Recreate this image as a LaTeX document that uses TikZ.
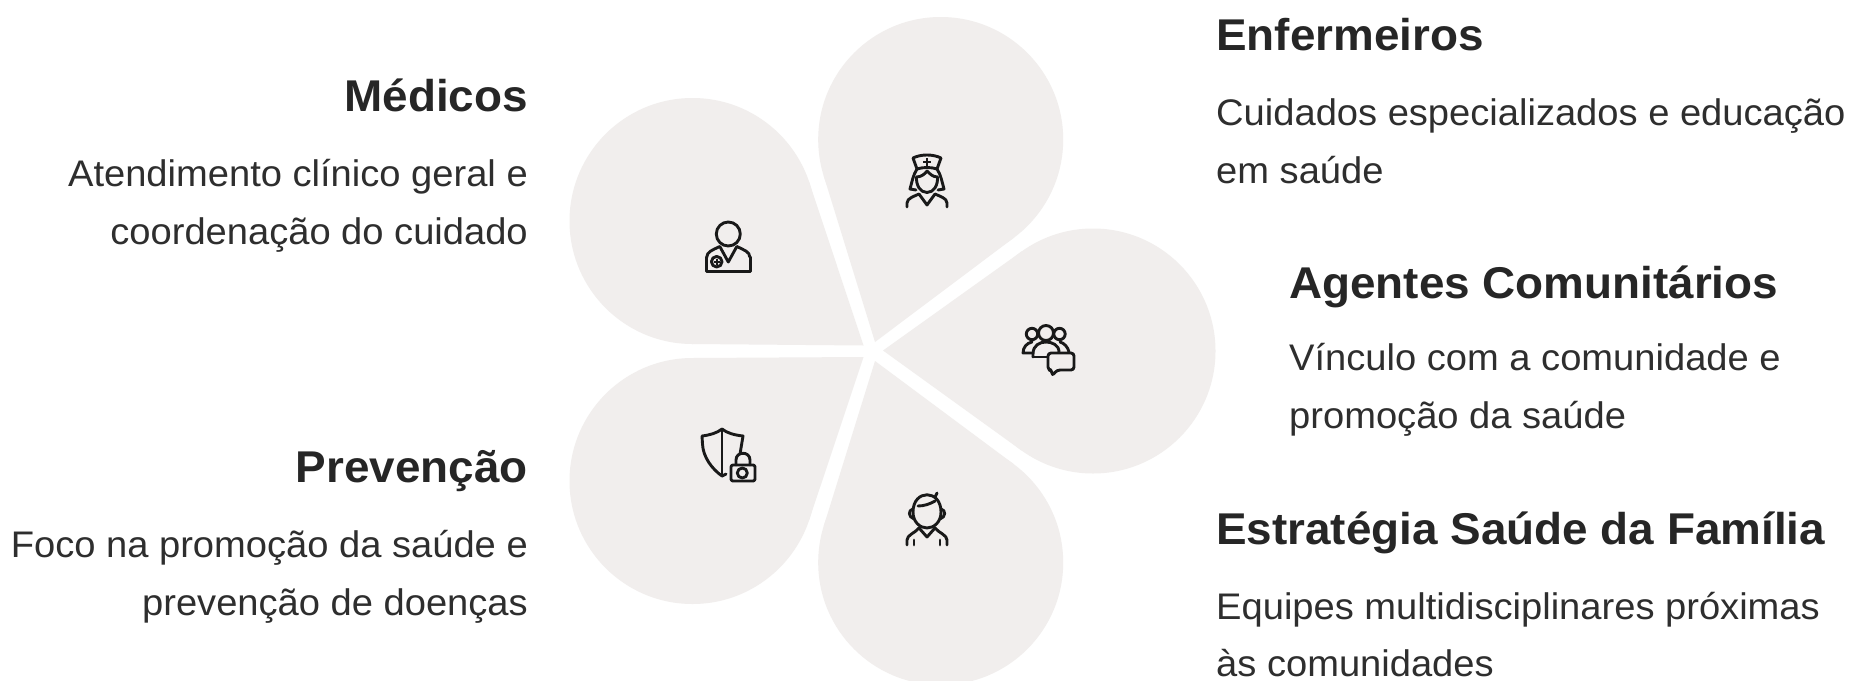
\documentclass[tikz,border=0pt]{standalone}
\usepackage{fontspec}
\setmainfont{Liberation Sans}
\newfontfamily\bodyf[FakeStretch=1.03]{Liberation Sans}
\newfontfamily\titlef[FakeStretch=1.03]{Liberation Sans}
\definecolor{petal}{HTML}{F1EEED}
\definecolor{ink}{HTML}{262626}
\definecolor{sub}{HTML}{2E2E2E}
\tikzset{
  ttl/.style={inner sep=0pt,anchor=base #1,text=ink,font=\titlef\fontsize{44.5}{44.5}\selectfont\bfseries},
  bdy/.style={inner sep=0pt,anchor=base #1,text=sub,font=\bodyf\fontsize{37}{37}\selectfont},
  ico/.style={draw=black!90,line width=2.9pt,line cap=round,line join=round,fill=none},
  icothin/.style={draw=black!90,line width=2.2pt},
}
\newcommand{\petalshape}[5]{% cx cy r tipx tipy
  \pgfmathsetmacro{\pa}{atan2(#5-#2,#4-#1)}
  \pgfmathsetmacro{\pd}{veclen(#4-#1,#5-#2)}
  \pgfmathsetmacro{\pb}{acos(#3/\pd)}
  \fill[petal] (#1,#2) circle [radius=#3];
  \fill[petal] (#4,#5) -- ({#1+#3*cos(\pa+\pb)},{#2+#3*sin(\pa+\pb)}) -- (#1,#2) -- ({#1+#3*cos(\pa-\pb)},{#2+#3*sin(\pa-\pb)}) -- cycle;
}
\begin{document}
\begin{tikzpicture}[x=1pt,y=-1pt]
\useasboundingbox (0,0) rectangle (1870,680);
\clip (0,0) rectangle (1870,680);
\fill[white] (0,0) rectangle (1870,680);
\petalshape{940.7}{139.5}{122.5}{875}{342}
\petalshape{1093}{351}{122.5}{883}{350.5}
\petalshape{940.7}{562.5}{122.5}{875}{361}
\petalshape{692.5}{221}{123}{863.5}{345.5}
\petalshape{692.5}{481}{123}{863.5}{357}
% doctor
\begin{scope}[shift={(728.3,234)}]
 \draw[ico] (0,0) circle [radius=12];
 \draw[ico] (-21.5,23) .. controls (-21.5,18) and (-16,16) .. (-8.5,12.5) -- (0,28) -- (8.5,12.5) .. controls (16,16) and (21.5,18) .. (21.5,23);
 \draw[ico] (-21.5,23) -- (-21.5,37.5) -- (22,37.5) -- (22,23);
 \draw[ico] (-11.6,27.7) circle [radius=5.3];
 \draw[icothin] (-14.6,27.7) -- (-8.6,27.7) (-11.6,24.7) -- (-11.6,30.7);
\end{scope}
% nurse
\begin{scope}[shift={(927,180)}]
 \draw[ico] (-10,-11) -- (-14,-22) .. controls (-6,-26) and (6,-26) .. (14,-22) -- (10,-11) .. controls (4,-13) and (-4,-13) .. cycle;
 \draw[icothin] (-4,-18) -- (4,-18) (0,-22) -- (0,-14);
 \draw[ico] (-10,-11) .. controls (-14,-5) and (-15,2) .. (-17,9) -- (-11,10);
 \draw[ico] (10,-11) .. controls (14,-5) and (15,2) .. (17,9) -- (11,10);
 \draw[ico] (-10.5,-3) .. controls (-6,-3) and (-2,-6) .. (0,-9) .. controls (3,-6) and (6,-3) .. (10.5,-3) .. controls (11,5) and (7,12.5) .. (0,12.5) .. controls (-7,12.5) and (-11,5) .. (-10.5,-3) -- cycle;
 \draw[ico] (-20,27) -- (-20,23) .. controls (-20,18) and (-12,16) .. (-8,14) -- (0,25) -- (8,14) .. controls (12,16) and (20,18) .. (20,23) -- (20,27);
\end{scope}
% group
\begin{scope}[shift={(1046,333)}]
 \draw[ico] (0,0) circle [radius=7.5];
 \draw[ico] (-14,1) circle [radius=5.7];
 \draw[ico] (13.5,1) circle [radius=5.7];
 \draw[ico] (-13,24) -- (-13,21) .. controls (-13,12) and (-6,9) .. (0,9) .. controls (6,9) and (13,12) .. (13,19);
 \draw[ico] (-13,24) -- (1,24);
 \draw[ico] (-14,9) .. controls (-19,10) and (-23,14) .. (-23,20) -- (-13,20);
 \draw[ico] (14,9) .. controls (18,10) and (22,14) .. (23,19);
 \draw[ico,rounded corners=3pt] (2,20) -- (28,20) -- (28,37) -- (11,37) -- (6,43) -- (6,37) -- (2,37) -- cycle;
\end{scope}
% person
\begin{scope}[shift={(927,510)}]
 \draw[ico] (-14,2) .. controls (-14,-21) and (14,-21) .. (14,2) .. controls (14,12) and (7,18) .. (0,18) .. controls (-7,18) and (-14,12) .. (-14,2) -- cycle;
 \draw[ico] (-14,-1) .. controls (-19,0) and (-19,7) .. (-13,9);
 \draw[ico] (14,-1) .. controls (19,0) and (19,7) .. (13,9);
 \draw[ico] (-9,-4) .. controls (-3,-4) and (3,-6) .. (8,-9);
 \draw[ico] (8,-13) -- (10,-17);
 \draw[ico] (-20,35) -- (-20,30) .. controls (-20,25) and (-12,23) .. (-8,18) -- (0,27) -- (8,18) .. controls (12,23) and (20,25) .. (20,30) -- (20,35);
 \draw[ico] (-13,30) -- (-13,35) (13,30) -- (13,35);
\end{scope}
% shield
\begin{scope}[shift={(722,429)}]
 \draw[ico] (0,0) -- (0,47);
 \draw[ico] (18,25) -- (21,7) .. controls (12,6) and (5,4) .. (0,0) .. controls (-5,4) and (-12,6) .. (-20,7) -- (-19.5,15) .. controls (-19,28) and (-10,40) .. (0,47) -- (4,45);
 \draw[ico] (14,36) -- (14,31) .. controls (14,22) and (28,22) .. (28,31) -- (28,36);
 \draw[ico,rounded corners=2pt] (9,36) rectangle (33,52);
 \draw[ico] (20.3,44) circle [radius=5];
\end{scope}
% texts
\node[ttl=west] (t1) at (1216,50) {Enfermeiros};
\node[bdy=west] (b1a) at (1216,125) {Cuidados especializados e educação};
\node[bdy=west] (b1b) at (1216,183) {em saúde};
\node[ttl=west] (t2) at (1289,298) {Agentes Comunitários};
\node[bdy=west] (b2a) at (1289,370) {Vínculo com a comunidade e};
\node[bdy=west] (b2b) at (1289,428) {promoção da saúde};
\node[ttl=west] (t3) at (1216,544) {Estratégia Saúde da Família};
\node[bdy=west] (b3a) at (1216,619) {Equipes multidisciplinares próximas};
\node[bdy=west] (b3b) at (1216,676.5) {às comunidades};
\node[ttl=east] (t4) at (528,111) {Médicos};
\node[bdy=east] (b4a) at (528,186) {Atendimento clínico geral e};
\node[bdy=east] (b4b) at (528,244) {coordenação do cuidado};
\node[ttl=east] (t5) at (528,482) {Prevenção};
\node[bdy=east] (b5a) at (528,557) {Foco na promoção da saúde e};
\node[bdy=east] (b5b) at (528,615) {prevenção de doenças};
\end{tikzpicture}
\end{document}
